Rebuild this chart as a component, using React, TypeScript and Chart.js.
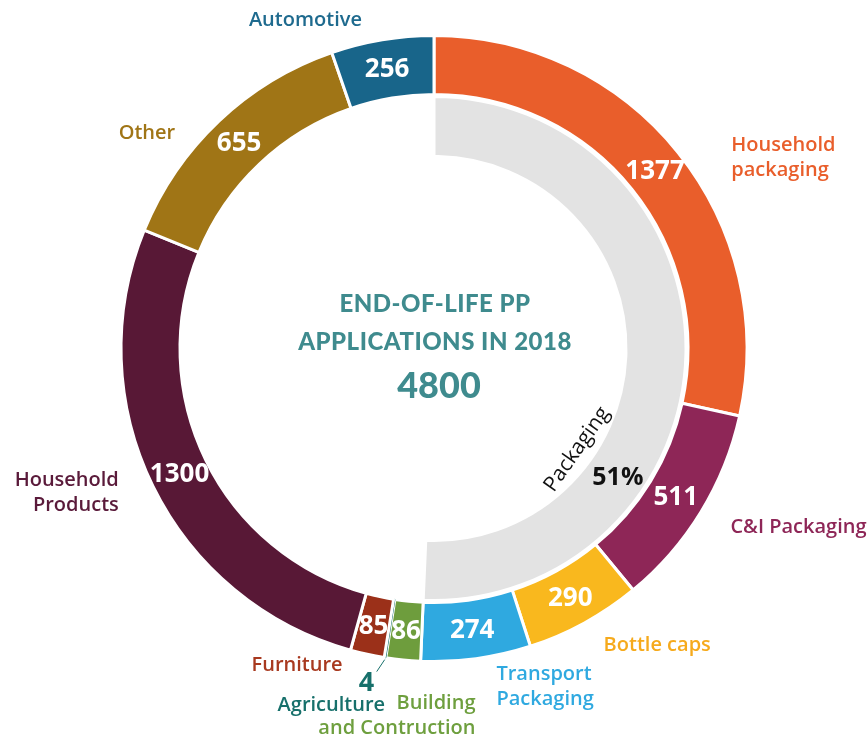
import React, { useEffect, useRef } from 'react';
import { Chart, registerables } from 'chart.js';

Chart.register(...registerables);

// ---------- data ----------
const categories = [
  'Household packaging',
  'C&I Packaging',
  'Bottle caps',
  'Transport Packaging',
  'Building and Contruction',
  'Agriculture',
  'Furniture',
  'Household Products',
  'Other',
  'Automotive',
];
const values = [1377, 511, 290, 274, 86, 4, 85, 1300, 655, 256];
const packagingCategories = ['Household packaging', 'C&I Packaging', 'Bottle caps', 'Transport Packaging'];
const packagingLabel = 'Packaging';
const packagingShareText = '51%';
const centerTitle = ['END-OF-LIFE PP', 'APPLICATIONS IN 2018'];
const centerTotal = '4800';

// ---------- styles ----------
const segmentColors = [
  '#e95e2b', '#8e2657', '#f9b81e', '#2fa9e0', '#6e9d3d',
  '#17716c', '#9b3019', '#581836', '#a07516', '#18658a',
];
const labelColors = [
  '#e95e2b', '#8e2657', '#f6aa1c', '#2fa9e0', '#6e9f3e',
  '#17706b', '#a8391f', '#5a1a3a', '#a07516', '#1e6a8e',
];
const agricultureIndex = 5;
const grayColor = '#e3e3e3';
const teal = '#3f8b8e';

// label text blocks, offsets relative to the slice's mid-angle point at radius 330
const labelLayout = [
  { lines: ['Household', 'packaging'], align: 'left', dx: 40, dy: 16 },
  { lines: ['C&I Packaging'], align: 'left', dx: 15, dy: 6 },
  { lines: ['Bottle caps'], align: 'left', dx: 11, dy: 7 },
  { lines: ['Transport', 'Packaging'], align: 'left', dx: 18, dy: 11 },
  { lines: ['Building', 'and Contruction'], align: 'right', dx: 74, dy: 39 },
  { lines: ['Agriculture'], align: 'center', dx: -51, dy: 31 },
  { lines: ['Furniture'], align: 'right', dx: -21, dy: -6 },
  { lines: ['Household', 'Products'], align: 'right', dx: -19, dy: -1 },
  { lines: ['Other'], align: 'right', dx: -32, dy: 24 },
  { lines: ['Automotive'], align: 'center', dx: -74, dy: -3 },
];

const OUTER_R = 313;
const INNER_R = 192;

const labelsPlugin = {
  id: 'customLabels',
  afterDraw(chart: any) {
    const ctx = chart.ctx as CanvasRenderingContext2D;
    const meta = chart.getDatasetMeta(0);
    const cx = meta.data[0].x;
    const cy = meta.data[0].y;
    ctx.save();
    // values inside ring
    meta.data.forEach((arc: any, i: number) => {
      const a = (arc.startAngle + arc.endAngle) / 2;
      if (i !== agricultureIndex) {
        const r = (arc.innerRadius + arc.outerRadius) / 2;
        ctx.font = 'bold 26px "Open Sans"';
        ctx.fillStyle = '#ffffff';
        ctx.textAlign = 'center';
        ctx.textBaseline = 'middle';
        ctx.fillText(String(values[i]), cx + Math.cos(a) * r, cy + Math.sin(a) * r + 1);
      }
      // outside labels
      const lay = labelLayout[i];
      const ax = cx + Math.cos(a) * 330 + lay.dx;
      const ay = cy + Math.sin(a) * 330 + lay.dy;
      ctx.font = '600 20px "Open Sans"';
      ctx.fillStyle = labelColors[i];
      ctx.textAlign = lay.align as CanvasTextAlign;
      ctx.textBaseline = 'middle';
      const lh = 25;
      const n = lay.lines.length;
      lay.lines.forEach((t, k) => {
        ctx.fillText(t, ax, ay + (k - (n - 1) / 2) * lh);
      });
      if (i === agricultureIndex) {
        // leader + value
        const lx = cx + Math.cos(a) * 315;
        const ly = cy + Math.sin(a) * 315;
        ctx.strokeStyle = labelColors[i];
        ctx.lineWidth = 1;
        ctx.beginPath();
        ctx.moveTo(lx, ly);
        ctx.lineTo(lx - 8, ly + 12);
        ctx.stroke();
        ctx.font = 'bold 27px "Open Sans"';
        ctx.textAlign = 'center';
        ctx.fillText(String(values[i]), cx + Math.cos(a) * 330 - 16, cy + Math.sin(a) * 330 + 9);
      }
    });

    // Packaging text along the gray arc
    const pa = (125.2 - 90) * Math.PI / 180;
    ctx.save();
    ctx.translate(cx + Math.cos(pa) * 175, cy + Math.sin(pa) * 175);
    ctx.rotate(pa - Math.PI / 2);
    ctx.font = '21px "Open Sans"';
    ctx.fillStyle = '#111111';
    ctx.textAlign = 'center';
    ctx.textBaseline = 'middle';
    ctx.fillText(packagingLabel, 0, 0);
    ctx.restore();
    const sa = (125.2 - 90) * Math.PI / 180;
    ctx.font = 'bold 25px "Open Sans"';
    ctx.fillStyle = '#111111';
    ctx.textAlign = 'center';
    ctx.textBaseline = 'middle';
    ctx.fillText(packagingShareText, cx + Math.cos(sa) * 225, cy + Math.sin(sa) * 225);

    // center title
    ctx.fillStyle = teal;
    ctx.font = '900 24px Lato';
    (ctx as any).letterSpacing = '0.5px';
    ctx.fillText(centerTitle[0], cx + 1, cy - 44);
    ctx.fillText(centerTitle[1], cx + 1, cy - 6);
    ctx.font = '900 36px Lato';
    (ctx as any).letterSpacing = '0px';
    ctx.fillText(centerTotal, cx + 5, cy + 38);
    ctx.restore();
  },
};

export default function App() {
  const ref = useRef<HTMLCanvasElement | null>(null);
  useEffect(() => {
    if (!ref.current) return;
    const total = values.reduce((s, v) => s + v, 0);
    const packagingTotal = categories.reduce(
      (s, c, i) => (packagingCategories.includes(c) ? s + values[i] : s), 0);
    const borderColors = segmentColors.map((c, i) => (i === agricultureIndex ? c : '#ffffff'));
    const borderWidths = segmentColors.map((c, i) => (i === agricultureIndex ? 1 : 3));
    const chart = new Chart(ref.current, {
      type: 'doughnut',
      data: {
        labels: categories,
        datasets: [
          {
            data: values,
            backgroundColor: segmentColors,
            borderColor: borderColors,
            borderWidth: borderWidths,
            weight: 59,
          } as any,
          {
            data: [1],
            backgroundColor: ['rgba(0,0,0,0)'],
            borderWidth: 0,
            weight: 2,
          } as any,
          {
            data: [packagingTotal, total - packagingTotal],
            backgroundColor: [grayColor, 'rgba(0,0,0,0)'],
            borderColor: '#ffffff',
            borderWidth: [3, 0],
            weight: 60,
          } as any,
        ],
      },
      options: {
        responsive: false,
        animation: false,
        events: [],
        radius: OUTER_R,
        cutout: `${(INNER_R / OUTER_R) * 100}%`,
        layout: { padding: { top: 0, left: 0, right: 0, bottom: 43 } },
        plugins: {
          legend: { display: false },
          tooltip: { enabled: false },
        },
      } as any,
      plugins: [labelsPlugin],
    });
    return () => chart.destroy();
  }, []);
  return (
    <div style={{ position: 'absolute', left: 0, top: 0, width: 868, height: 740, background: '#fff' }}>
      <canvas ref={ref} width={868} height={740} style={{ display: 'block' }} />
    </div>
  );
}
